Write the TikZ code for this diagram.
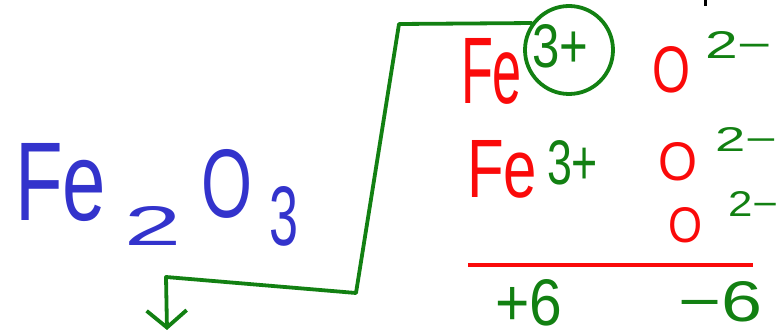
\documentclass[tikz,border=0pt]{standalone}
\usepackage{fontspec}
\setmainfont{Liberation Sans}
\usepackage{graphicx}
\usetikzlibrary{arrows.meta}
\definecolor{hblue}{RGB}{51,51,204}
\definecolor{hgreen}{RGB}{18,128,18}
\definecolor{hred}{RGB}{250,10,10}
\tikzset{
  glyph/.style={anchor=south west, inner sep=0pt, outer sep=0pt},
  gline/.style={draw=hgreen, line width=3.8pt, line cap=round, line join=round},
}
\newcommand\fitbox[3]{\resizebox{#1pt}{#2pt}{#3}}
\begin{document}
\begin{tikzpicture}[x=1pt,y=-1pt]
\useasboundingbox (0,0) rectangle (780,331);
% formula in blue
\node[glyph, text=hblue] (fe)    at (15,222)  {\fitbox{91}{77}{Fe}};
\node[glyph, text=hblue] (two)   at (124,246) {\fitbox{57}{39}{2}};
\node[glyph, text=hblue] (ox)    at (201,218) {\fitbox{51}{68}{O}};
\node[glyph, text=hblue] (three) at (269,246) {\fitbox{29}{59}{3}};
% row 1
\node[glyph, text=hred]   (fe1)  at (461,104) {\fitbox{61}{65}{Fe}};
\node[draw=hgreen, line width=3.8pt, circle, minimum size=88pt, inner sep=0pt] (c3) at (569,50) {};
\node[glyph, text=hgreen] (ch1)  at (532,68)  {\fitbox{56}{43}{3+}};
\node[glyph, text=hred]   (o1)   at (652,93)  {\fitbox{38}{46}{O}};
\node[glyph, text=hgreen] (oc1)  at (705,59)  {\fitbox{67}{27}{2−}};
% row 2
\node[glyph, text=hred]   (fe2)  at (467,198) {\fitbox{70}{57}{Fe}};
\node[glyph, text=hgreen] (ch2)  at (547,185) {\fitbox{51}{44}{3+}};
\node[glyph, text=hred]   (o2)   at (658,181) {\fitbox{39}{38}{O}};
\node[glyph, text=hgreen] (oc2)  at (715,152) {\fitbox{62}{24}{2−}};
% row 3
\node[glyph, text=hred]   (o3)   at (668,243) {\fitbox{34}{35}{O}};
\node[glyph, text=hgreen] (oc3)  at (728,217) {\fitbox{50}{25}{2−}};
% sum line and totals
\coordinate (sl) at (468,265);
\coordinate (sr) at (753,265);
\draw[draw=hred, line width=4pt] (sl) -- (sr);
\node[glyph, text=hgreen] (plus)  at (495,326) {\fitbox{67}{46}{+6}};
\node[glyph, text=hgreen] (minus) at (678,322) {\fitbox{84}{40}{−6}};
% stray mark at top
\coordinate (m1) at (705,0);
\coordinate (m2) at (705,6);
\draw[line width=3pt] (m1) -- (m2);
% connector from circled charge
\coordinate (k1) at (399,24);
\coordinate (k2) at (356,293);
\coordinate (k3) at (166,277);
\coordinate (tip) at (167,330);
\draw[gline, -{Straight Barb[length=17pt,width=40pt,line width=3.8pt]}] (c3.144) -- (k1) -- (k2) -- (k3) -- (tip);
\end{tikzpicture}
\end{document}
